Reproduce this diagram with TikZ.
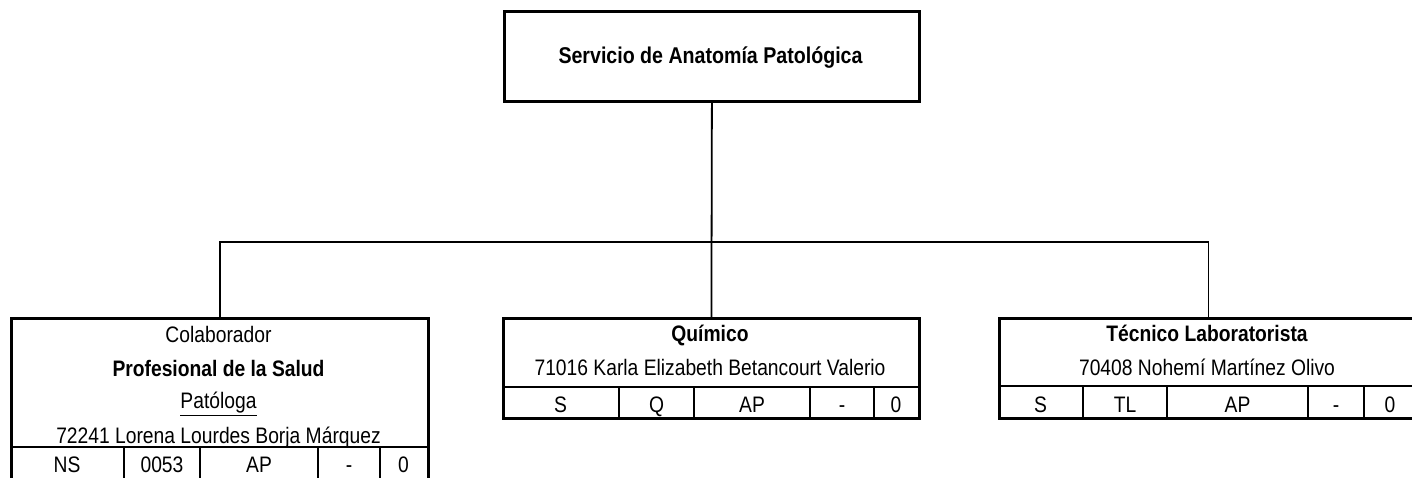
\documentclass[tikz,border=0pt]{standalone}
\usepackage{fontspec}
\setmainfont{Liberation Sans}
\newfontfamily\estrecha[FakeStretch=0.86]{Liberation Sans}
\begin{document}
\begin{tikzpicture}[x=0.5pt,y=-0.5pt, line join=miter,
	caja/.style={draw,line width=1.4pt,inner sep=0pt,anchor=north west},
	conector/.style={line width=0.9pt},
	division/.style={line width=1.1pt},
	texto/.style={inner sep=0pt,anchor=base,font={\estrecha\fontsize{11.2}{14}\selectfont}},
	negrita/.style={texto,font={\estrecha\fontsize{11.2}{14}\selectfont\bfseries}}]
	%% limites del dibujo
	\useasboundingbox (0,0) rectangle (1412,477);
	%% cajas
	\node[caja,minimum width=207.5pt,minimum height=45pt] (servicio) at (503,10) {};
	\node[caja,minimum width=208.5pt,minimum height=81.5pt] (colab) at (10,317) {};
	\node[caja,minimum width=208pt,minimum height=50pt] (quimico) at (502,317) {};
	\node[caja,minimum width=209pt,minimum height=50pt] (tecnico) at (998,317) {};
	%% titulo
	\node[negrita,font={\estrecha\fontsize{11.4}{14}\selectfont\bfseries}] (servicio-t) at (710.5,63) {Servicio de Anatomía Patológica};
	%% conectores
	\coordinate (bus) at (710.5,242);
	\draw[conector] (servicio.south) -- (quimico.north);
	\draw[conector] (colab.north) |- (bus) -| (tecnico.north);
	%% Colaborador
	\node[texto] (colab-1) at (218.5,342) {Colaborador};
	\node[negrita] (colab-2) at (218.5,376) {Profesional de la Salud};
	\node[texto] (colab-3) at (218.5,408) {\underline{Patóloga}};
	\node[texto] (colab-4) at (218.5,443) {72241 Lorena Lourdes Borja Márquez};
	\draw[division] (10,447) -- (427,447);
	\foreach \x in {124,200,318,380} \draw[division] (\x,447) -- (\x,480);
	\foreach \x/\t [count=\i] in {67/NS,162/0053,259/AP,349/-,403.5/0}
		\node[texto] (colab-c\i) at (\x,472) {\t};
	%% Quimico
	\node[negrita] (quimico-1) at (710,341) {Químico};
	\node[texto] (quimico-2) at (710,375) {71016 Karla Elizabeth Betancourt Valerio};
	\draw[division] (502,387) -- (918,387);
	\foreach \x in {619,694,810,874} \draw[division] (\x,387) -- (\x,417);
	\foreach \x/\t [count=\i] in {560.5/S,656.5/Q,752/AP,842/-,896/0}
		\node[texto] (quimico-c\i) at (\x,412) {\t};
	%% Tecnico
	\node[negrita] (tecnico-1) at (1207,341) {Técnico Laboratorista};
	\node[texto] (tecnico-2) at (1207,375) {70408 Nohemí Martínez Olivo};
	\draw[division] (998,386) -- (1416,386);
	\foreach \x in {1083,1167,1308,1364} \draw[division] (\x,386) -- (\x,417);
	\foreach \x/\t [count=\i] in {1040.5/S,1125/TL,1237.5/AP,1336/-,1390/0}
		\node[texto] (tecnico-c\i) at (\x,412) {\t};
\end{tikzpicture}
\end{document}
